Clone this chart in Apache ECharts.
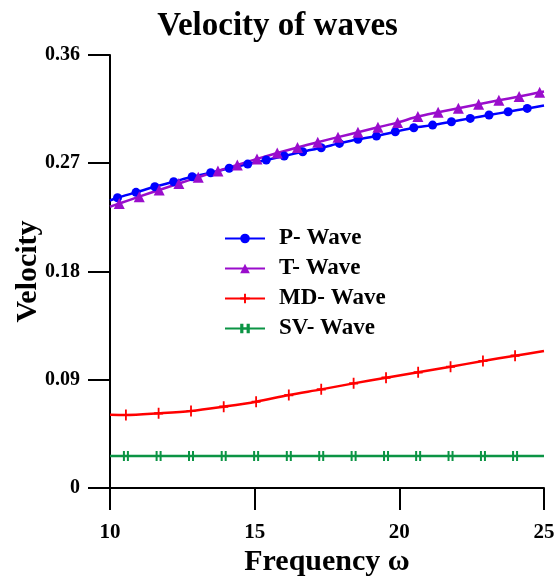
<!DOCTYPE html>
<html>
<head>
<meta charset="utf-8">
<script src="https://cdn.jsdelivr.net/npm/echarts@6/dist/echarts.min.js"></script>
<style>
  html, body { margin: 0; padding: 0; background: #fff; }
  #chart { width: 555px; height: 578px; }
</style>
</head>
<body>
<div id="chart"></div>
<script>
// values (first/last points only carry the line, no marker)
const freqP = [10, 10.26, 10.9, 11.55, 12.2, 12.84, 13.48, 14.12, 14.76, 15.4, 16.02, 16.66, 17.3, 17.93, 18.57, 19.21, 19.86, 20.5, 21.15, 21.8, 22.45, 23.1, 23.76, 24.42, 25];
const velP = [0.2390, 0.2413, 0.2458, 0.2505, 0.2546, 0.2588, 0.2621, 0.2658, 0.2693, 0.2727, 0.2760, 0.2796, 0.2829, 0.2865, 0.2899, 0.2926, 0.2962, 0.2995, 0.3017, 0.3045, 0.3073, 0.3101, 0.3128, 0.3156, 0.3180];

const freqT = [10, 10.32, 11.01, 11.7, 12.38, 13.05, 13.73, 14.4, 15.08, 15.78, 16.48, 17.18, 17.88, 18.57, 19.26, 19.94, 20.64, 21.34, 22.04, 22.74, 23.44, 24.14, 24.85, 25];
const velT = [0.2338, 0.2365, 0.2422, 0.2478, 0.2532, 0.2584, 0.2636, 0.2686, 0.2736, 0.2785, 0.2831, 0.2875, 0.2917, 0.2958, 0.2999, 0.3038, 0.3088, 0.3124, 0.3158, 0.3190, 0.3223, 0.3255, 0.3290, 0.3297];

const freqMD = [10, 10.55, 11.68, 12.8, 13.93, 15.05, 16.18, 17.3, 18.42, 19.54, 20.65, 21.77, 22.89, 24.0, 25];
const velMD = [0.0608, 0.0607, 0.0621, 0.0640, 0.0676, 0.0717, 0.0773, 0.0820, 0.0870, 0.0917, 0.0962, 0.1008, 0.1056, 0.1100, 0.1139];
const velSV = [0.0266, 0.0266, 0.0266, 0.0266, 0.0266, 0.0266, 0.0266, 0.0266, 0.0266, 0.0266, 0.0266, 0.0266, 0.0266, 0.0266, 0.0266];

const seriesNames = ['P- Wave', 'T- Wave', 'MD- Wave', 'SV- Wave'];
const yTickLabels = ['0', '0.09', '0.18', '0.27', '0.36'];

const FONT = '"Liberation Serif", "DejaVu Serif", serif';
const plusPath = 'path://M4,0H6V10H4Z M0,4H10V6H0Z';
const dblBarPath = 'path://M0,0H2V10H0Z M4,0H6V10H4Z M0,4H6V6H0Z';

function pts (xs, ys) {
	return xs.map((x, i) => {
		const item = { value: [x, ys[i]] };
		if (i === 0 || i === xs.length - 1) {
			item.symbol = 'none';
		}
		return item;
	});
}

function lineSeries (name, data, color, symbol, size) {
	return {
		name: name,
		type: 'line',
		data: data,
		smooth: 0.3,
		symbol: symbol,
		symbolSize: size,
		showAllSymbol: true,
		itemStyle: { color: color },
		lineStyle: { color: color, width: 2.5 },
		emphasis: { disabled: true },
		animation: false
	};
}

const chart = echarts.init(document.getElementById('chart'));
chart.setOption({
	backgroundColor: '#fff',
	title: {
		text: 'Velocity of waves',
		left: 'center',
		top: 5,
		textStyle: { fontFamily: FONT, fontWeight: 'bold', fontSize: 33, color: '#000' }
	},
	grid: { left: 110, right: 11, top: 55, bottom: 90, outerBoundsMode: 'none' },
	legend: {
		orient: 'vertical',
		left: 224,
		top: 227,
		padding: 0,
		itemWidth: 40,
		itemHeight: 12,
		itemGap: 7,
		data: seriesNames,
		textStyle: { fontFamily: FONT, fontWeight: 'bold', fontSize: 23, color: '#000', lineHeight: 23, padding: [0, 0, 0, 9] }
	},
	xAxis: {
		type: 'value',
		min: 10,
		max: 25,
		interval: 5,
		name: 'Frequency ω',
		nameLocation: 'middle',
		nameGap: 59,
		nameMoveOverlap: false,
		nameTextStyle: { fontFamily: FONT, fontWeight: 'bold', fontSize: 30, color: '#000' },
		axisLine: { onZero: false, lineStyle: { color: '#000', width: 2 } },
		axisTick: { inside: false, length: 22, lineStyle: { color: '#000', width: 2 } },
		axisLabel: { margin: 34, fontFamily: FONT, fontWeight: 'bold', fontSize: 21, color: '#000' },
		splitLine: { show: false }
	},
	yAxis: {
		type: 'value',
		min: 0,
		max: 0.36,
		interval: 0.09,
		name: 'Velocity',
		nameLocation: 'middle',
		nameGap: 67,
		nameMoveOverlap: false,
		nameTextStyle: { fontFamily: FONT, fontWeight: 'bold', fontSize: 30, color: '#000' },
		axisLine: { show: true, lineStyle: { color: '#000', width: 2 } },
		axisTick: { show: true, inside: false, length: 22, lineStyle: { color: '#000', width: 2 } },
		axisLabel: {
			margin: 30,
			fontFamily: FONT,
			fontWeight: 'bold',
			fontSize: 20,
			color: '#000',
			formatter: (v) => yTickLabels[Math.round(v / 0.09)]
		},
		splitLine: { show: false }
	},
	series: [
		lineSeries(seriesNames[0], pts(freqP, velP), '#0000ff', 'circle', 9),
		lineSeries(seriesNames[1], pts(freqT, velT), '#9a0dcc', 'triangle', 11),
		lineSeries(seriesNames[2], pts(freqMD, velMD), '#ff0000', plusPath, [9, 11]),
		lineSeries(seriesNames[3], pts(freqMD, velSV), '#0b9444', dblBarPath, [6, 10])
	]
});
</script>
</body>
</html>
